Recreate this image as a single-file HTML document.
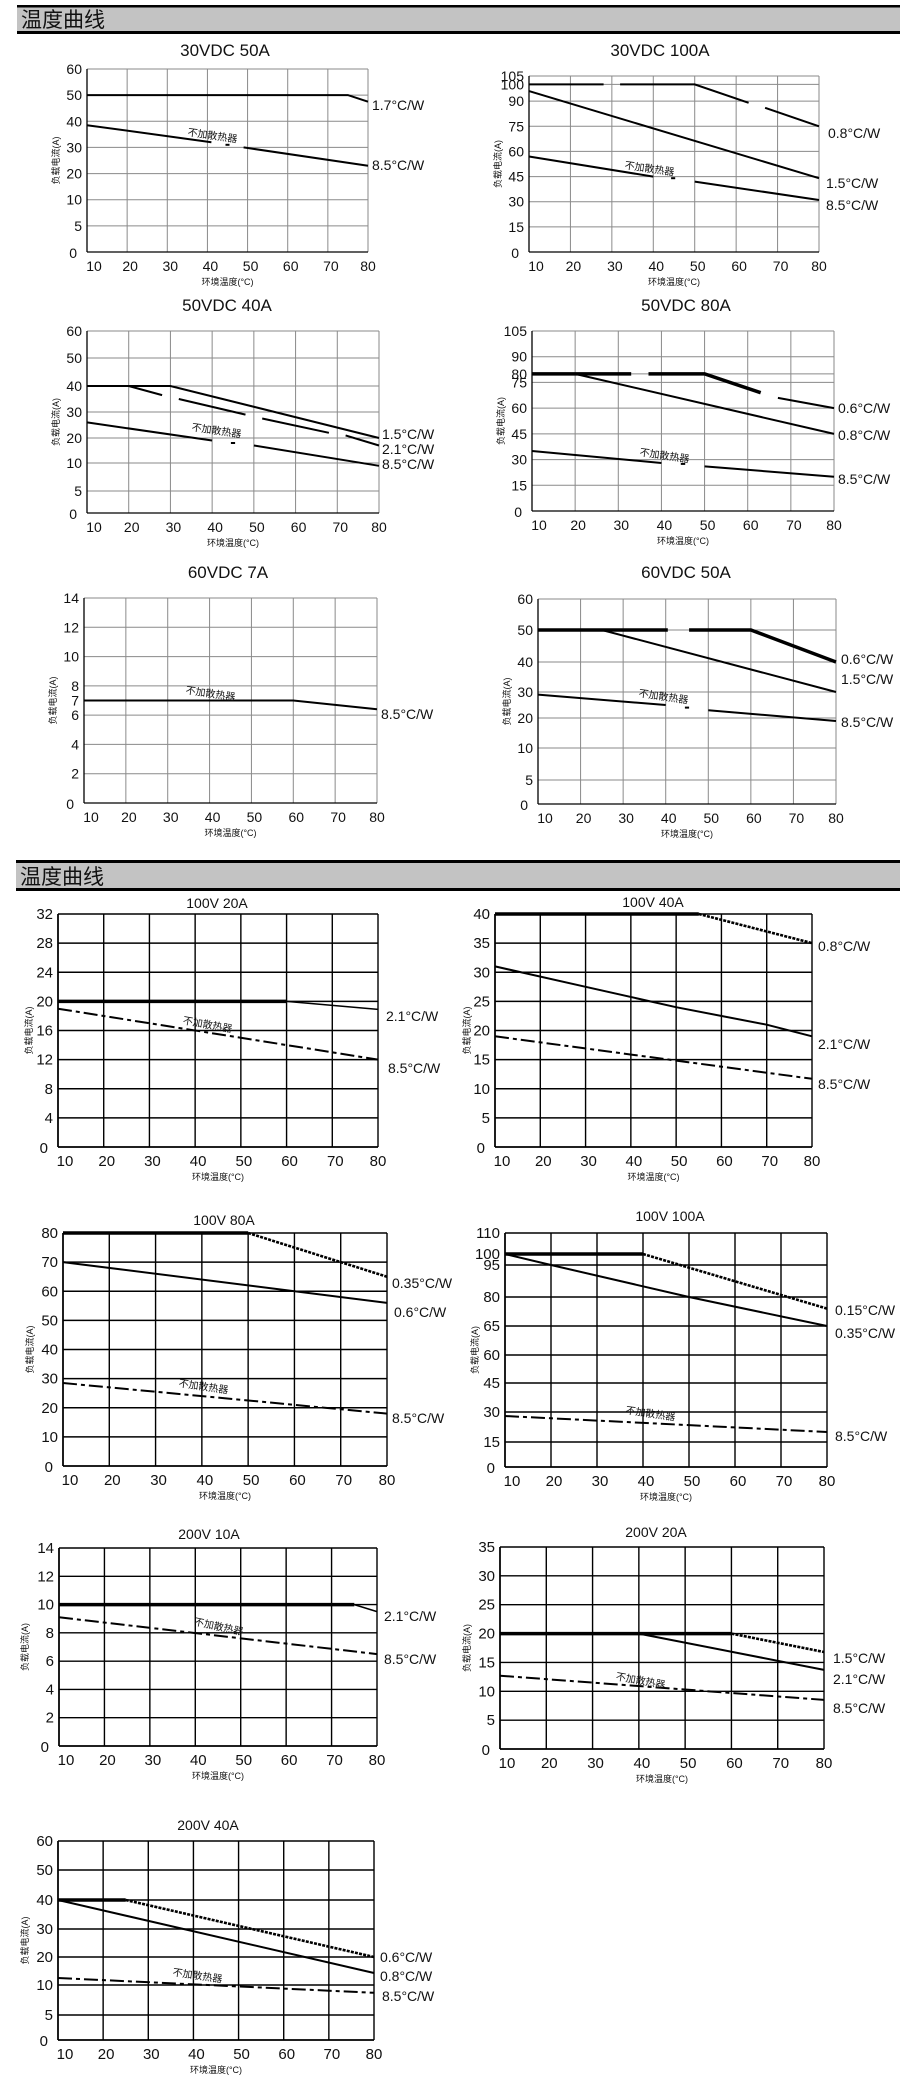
<!DOCTYPE html>
<html><head><meta charset="utf-8">
<style>
html,body{margin:0;padding:0;background:#fff;}
svg{display:block;}
text{font-family:"Liberation Sans","Noto Sans CJK SC",sans-serif;fill:#111;}
</style></head>
<body>
<svg id="s" width="900" height="2079" viewBox="0 0 900 2079" xmlns="http://www.w3.org/2000/svg">
<rect x="0" y="0" width="900" height="2079" fill="#fff"/>
<rect x="17" y="5" width="883" height="2.5" fill="#000"/>
<rect x="17" y="7.5" width="883" height="24" fill="#c3c3c3"/>
<rect x="17" y="31" width="883" height="3" fill="#000"/>
<text x="21" y="27" font-size="21">温度曲线</text>
<rect x="16" y="860" width="884" height="3" fill="#000"/>
<rect x="16" y="863" width="884" height="25" fill="#c3c3c3"/>
<rect x="16" y="888" width="884" height="3" fill="#000"/>
<text x="20" y="884" font-size="21">温度曲线</text>
<g id="g"></g>
</svg>
<script>
var out='';
function lin(max,step){var a=[];for(var v=0;v<=max+1e-9;v+=step)a.push([v,String(v)]);return a;}
function chart(c){
 var L=c.l,R=c.r,T=c.t,B=c.b;
 var tk=c.ty.map(function(t){return [t[0],t[1],t.length>2&&t[2]!=null?t[2]:B-(t[0]/c.ymax)*(B-T),t.length>3?t[3]:true];});
 tk.sort(function(a,b){return a[0]-b[0];});
 function X(v){return L+(v-10)/70*(R-L);}
 function Y(v){for(var i=0;i<tk.length-1;i++){if(v<=tk[i+1][0]){var a=tk[i],b=tk[i+1];return a[2]+(v-a[0])/(b[0]-a[0])*(b[2]-a[2]);}}return tk[tk.length-1][2];}
 var top=c.sec==1;
 var gc=top?'#8a8a8a':'#000', gw=top?1:1.4;
 // grid
 for(var t=10;t<=80;t+=10){var x=X(t);out+='<line x1="'+x+'" y1="'+T+'" x2="'+x+'" y2="'+B+'" stroke="'+gc+'" stroke-width="'+gw+'"/>';}
 tk.forEach(function(k){if(k[3])out+='<line x1="'+L+'" y1="'+k[2]+'" x2="'+R+'" y2="'+k[2]+'" stroke="'+gc+'" stroke-width="'+gw+'"/>';});
 out+='<line x1="'+L+'" y1="'+T+'" x2="'+L+'" y2="'+B+'" stroke="#000" stroke-width="'+(top?1.3:1.6)+'"/>';
 out+='<line x1="'+L+'" y1="'+B+'" x2="'+R+'" y2="'+B+'" stroke="#000" stroke-width="'+(top?1.3:1.6)+'"/>';
 var fs=top?14:15;
 tk.forEach(function(k){var yy=k[0]==0?k[2]+6:k[2]+5;var xx=k[0]==0?L-10:L-5;out+='<text x="'+xx+'" y="'+yy+'" font-size="'+fs+'" text-anchor="end">'+k[1]+'</text>';});
 for(var t=10;t<=80;t+=10){var x=X(t)+(t==10?7:(t==80?0:3));out+='<text x="'+x+'" y="'+(B+19)+'" font-size="'+fs+'" text-anchor="middle">'+t+'</text>';}
 // axis titles
 var cy=(T+B)/2;
 out+='<text x="0" y="0" font-size="9" text-anchor="middle" transform="translate('+(c.yt||(L-28))+','+cy+') rotate(-90)">负载电流(A)</text>';
 out+='<text x="'+((L+R)/2)+'" y="'+(B+33)+'" font-size="9" text-anchor="middle">环境温度(°C)</text>';
 // title
 out+='<text x="'+c.tx+'" y="'+c.tyy+'" font-size="'+(top?17:14)+'" text-anchor="middle">'+c.title+'</text>';
 // lines
 c.ln.forEach(function(s){
  var pts=s.p.map(function(p){return X(p[0]).toFixed(1)+','+Y(p[1]).toFixed(1);}).join(' ');
  var st={n:'stroke-width="2"',t:'stroke-width="3.5"',th:'stroke-width="1.5"',d:'stroke-width="2.6" stroke-dasharray="3,1.2"',dd:'stroke-width="2" stroke-dasharray="14,4,4,4"'}[s.s||'n'];
  out+='<polyline points="'+pts+'" fill="none" stroke="#000" '+st+'/>';
 });
 c.lb.forEach(function(l){out+='<text x="'+l[1]+'" y="'+l[2]+'" font-size="14">'+l[0]+'</text>';});
 if(c.nh)out+='<text x="0" y="0" font-size="10" text-anchor="middle" transform="translate('+c.nh[0]+','+c.nh[1]+') rotate('+(c.nh[2]||8)+')">不加散热器</text>';
}
var t7=function(vals,T,B){var n=vals.length-1;return vals.map(function(v,i){return [v,String(v),B-i*(B-T)/n];});};
// A 30VDC 50A
chart({sec:1,l:87,r:368,t:69,b:252,ty:t7([0,5,10,20,30,40,50,60],69,252),title:'30VDC 50A',tx:225,tyy:56,
 ln:[{p:[[10,50],[75,50],[80,47.5]]},{p:[[10,38.5],[41,32]]},{p:[[44.5,31],[45.5,31]]},{p:[[49,30],[80,23]]}],
 lb:[['1.7°C/W',372,110],['8.5°C/W',372,170]],nh:[212,139,8]});
// B 30VDC 100A
chart({sec:1,l:529,r:819,t:76,b:252,ymax:105,ty:[[0,'0'],[15,'15'],[30,'30'],[45,'45'],[60,'60'],[75,'75'],[90,'90'],[100,'100'],[105,'105']],title:'30VDC 100A',tx:660,tyy:56,
 ln:[{p:[[10,100],[28,100]]},{p:[[32,100],[50,100],[63,89]]},{p:[[67,86],[80,75]]},{p:[[10,96],[80,44]]},{p:[[10,57],[40,45]]},{p:[[44.3,44],[45.3,44]]},{p:[[50,42],[80,31]]}],
 lb:[['0.8°C/W',828,138],['1.5°C/W',826,188],['8.5°C/W',826,210]],nh:[649,172,8]});
// C 50VDC 40A
chart({sec:1,l:87,r:379,t:331,b:513,ty:[[0,'0',513],[5,'5',491],[10,'10',463],[20,'20',438],[30,'30',412],[40,'40',386],[50,'50',358],[60,'60',331]],title:'50VDC 40A',tx:227,tyy:311,
 ln:[{p:[[10,40],[30,40],[80,20]]},{p:[[10,40],[20,40],[28,36.5]]},{p:[[32,35],[48,29]]},{p:[[52,27.5],[68,22]]},{p:[[72,21],[80,17]]},{p:[[10,26],[40,19]]},{p:[[44.5,18],[45.5,18]]},{p:[[50,17],[80,9.5]]}],
 lb:[['1.5°C/W',382,439],['2.1°C/W',382,454],['8.5°C/W',382,469]],nh:[216,434,8]});
// D 50VDC 80A
chart({sec:1,l:532,r:834,t:331,b:511,ymax:105,ty:[[0,'0'],[15,'15'],[30,'30'],[45,'45'],[60,'60'],[75,'75'],[80,'80'],[90,'90'],[105,'105']],title:'50VDC 80A',tx:686,tyy:311,
 ln:[{p:[[10,80],[33,80]],s:'t'},{p:[[37,80],[50,80],[63,69]],s:'t'},{p:[[67,66],[80,60]]},{p:[[10,80],[20,80],[80,45]]},{p:[[10,35],[40,28]]},{p:[[44.5,27.5],[45.5,27.5]]},{p:[[50,26],[80,20]]}],
 lb:[['0.6°C/W',838,413],['0.8°C/W',838,440],['8.5°C/W',838,484]],nh:[664,459,8]});
// E 60VDC 7A
chart({sec:1,l:84,r:377,t:598,b:803,ymax:14,ty:[[0,'0'],[2,'2'],[4,'4'],[6,'6'],[7,'7',null,false],[8,'8'],[10,'10'],[12,'12'],[14,'14']],title:'60VDC 7A',tx:228,tyy:578,
 ln:[{p:[[10,7],[60,7],[80,6.4]]}],
 lb:[['8.5°C/W',381,719]],nh:[210,697,0]});
// F 60VDC 50A
chart({sec:1,l:538,r:836,t:599,b:804,ty:[[0,'0',804],[5,'5',780],[10,'10',748],[20,'20',718],[30,'30',692],[40,'40',662],[50,'50',630],[60,'60',599]],title:'60VDC 50A',tx:686,tyy:578,
 ln:[{p:[[10,50],[40.5,50]],s:'t'},{p:[[45.5,50],[60,50],[80,40]],s:'t'},{p:[[10,50],[25,50],[80,30]]},{p:[[10,29],[40,25]]},{p:[[44.5,24],[45.5,24]]},{p:[[50,23],[80,19]]}],
 lb:[['0.6°C/W',841,664],['1.5°C/W',841,684],['8.5°C/W',841,727]],nh:[663,700,8]});
// G 100V 20A
chart({sec:2,l:58,r:378,t:914,b:1147,ymax:32,ty:lin(32,4),title:'100V 20A',tx:217,tyy:908,yt:32,
 ln:[{p:[[10,20],[60,20]],s:'t'},{p:[[60,20],[80,18.9]],s:'th'},{p:[[10,19],[80,12]],s:'dd'}],
 lb:[['2.1°C/W',386,1021],['8.5°C/W',388,1073]],nh:[207,1028,10]});
// H 100V 40A
chart({sec:2,l:495,r:812,t:914,b:1147,ymax:40,ty:lin(40,5),title:'100V 40A',tx:653,tyy:907,yt:470,
 ln:[{p:[[10,40],[55,40]],s:'t'},{p:[[55,40],[80,35]],s:'d'},{p:[[10,31],[30,27.5],[50,24],[70,21],[80,19]]},{p:[[10,19],[80,11.7]],s:'dd'}],
 lb:[['0.8°C/W',818,951],['2.1°C/W',818,1049],['8.5°C/W',818,1089]]});
// I 100V 80A
chart({sec:2,l:63,r:387,t:1233,b:1466,ymax:80,ty:lin(80,10),title:'100V 80A',tx:224,tyy:1225,yt:33,
 ln:[{p:[[10,80],[50,80]],s:'t'},{p:[[50,80],[80,65]],s:'d'},{p:[[10,70],[80,56]]},{p:[[10,28.5],[80,18]],s:'dd'}],
 lb:[['0.35°C/W',392,1288],['0.6°C/W',394,1317],['8.5°C/W',392,1423]],nh:[203,1390,8]});
// J 100V 100A
chart({sec:2,l:505,r:827,t:1233,b:1467,ty:[[0,'0',1467],[15,'15',1442],[30,'30',1412],[45,'45',1383],[50,'60',1355],[65,'65',1326],[80,'80',1297],[95,'95',1265],[100,'100',1254,false],[110,'110',1233]],title:'100V 100A',tx:670,tyy:1221,yt:478,
 ln:[{p:[[10,100],[40,100]],s:'t'},{p:[[40,100],[80,74]],s:'d'},{p:[[10,100],[20,95],[50,80],[80,65]]},{p:[[10,28],[80,20]],s:'dd'}],
 lb:[['0.15°C/W',835,1315],['0.35°C/W',835,1338],['8.5°C/W',835,1441]],nh:[650,1417,8]});
// K 200V 10A
chart({sec:2,l:59,r:377,t:1548,b:1746,ymax:14,ty:lin(14,2),title:'200V 10A',tx:209,tyy:1539,yt:28,
 ln:[{p:[[10,10],[75,10]],s:'t'},{p:[[75,10],[80,9.5]],s:'th'},{p:[[10,9.1],[80,6.5]],s:'dd'}],
 lb:[['2.1°C/W',384,1621],['8.5°C/W',384,1664]],nh:[218,1630,12]});
// L 200V 20A
chart({sec:2,l:500,r:824,t:1547,b:1749,ymax:35,ty:lin(35,5),title:'200V 20A',tx:656,tyy:1537,yt:470,
 ln:[{p:[[10,20],[60,20]],s:'t'},{p:[[60,20],[80,16.8]],s:'d'},{p:[[40,20],[80,13.7]]},{p:[[10,12.7],[80,8.5]],s:'dd'}],
 lb:[['1.5°C/W',833,1663],['2.1°C/W',833,1684],['8.5°C/W',833,1713]],nh:[640,1684,10]});
// M 200V 40A
chart({sec:2,l:58,r:374,t:1841,b:2040,ty:[[0,'0',2040],[5,'5',2015],[10,'10',1985],[20,'20',1957],[30,'30',1929],[40,'40',1900],[50,'50',1870],[60,'60',1841]],title:'200V 40A',tx:208,tyy:1830,yt:28,
 ln:[{p:[[10,40],[25,40]],s:'t'},{p:[[25,40],[80,20]],s:'d'},{p:[[10,40],[80,14.3]]},{p:[[10,12.5],[80,8.7]],s:'dd'}],
 lb:[['0.6°C/W',380,1962],['0.8°C/W',380,1981],['8.5°C/W',382,2001]],nh:[197,1979,0]});
document.getElementById('g').innerHTML=out;
</script>
</body></html>
